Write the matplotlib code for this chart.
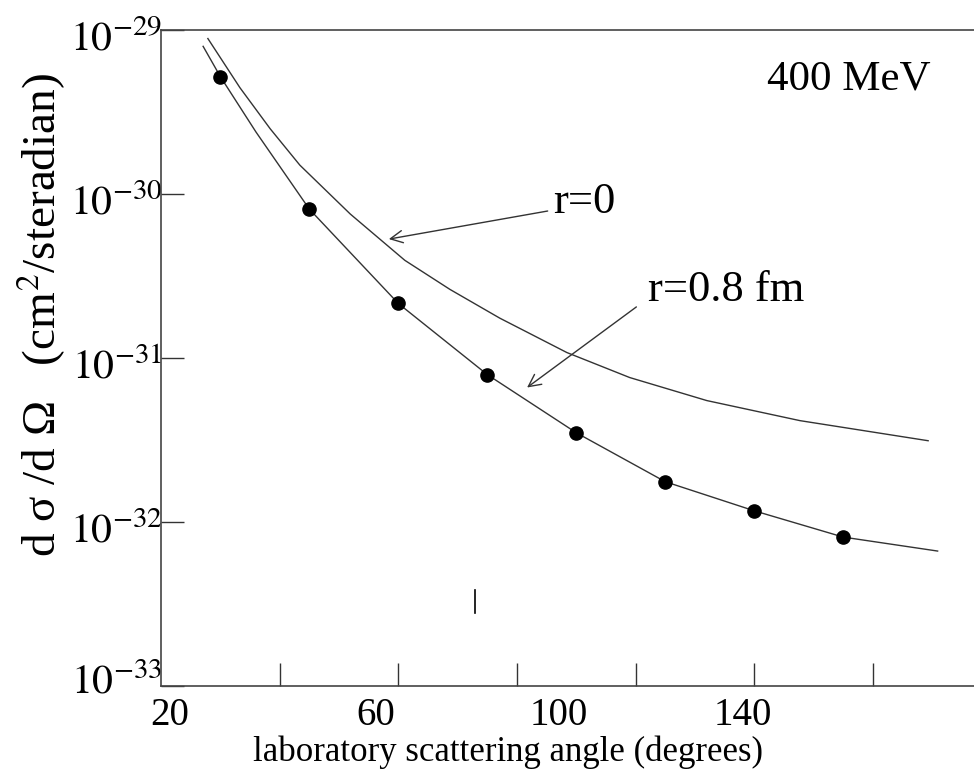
import numpy as np
import matplotlib.pyplot as plt
from matplotlib.transforms import ScaledTranslation

plt.rcParams['font.family'] = ['Liberation Serif', 'DejaVu Serif']
plt.rcParams['mathtext.fontset'] = 'stix'

# measured cross sections (dots), 400 MeV
angles = [30, 45, 60, 75, 90, 105, 120, 135]
sigma_meas = [5.20e-30, 8.09e-31, 2.15e-31, 7.92e-32, 3.50e-32, 1.76e-32, 1.17e-32, 8.09e-33]

# point charge curve (r=0)
r0_angle = [27.9, 33.3, 38.4, 43.4, 51.9, 61.1, 68.7, 77.1, 88.4, 99.0, 112.0, 127.7, 149.3]
r0_sigma = [8.87e-30, 4.45e-30, 2.50e-30, 1.50e-30, 7.55e-31, 3.94e-31, 2.62e-31,
            1.75e-31, 1.08e-31, 7.60e-32, 5.50e-32, 4.15e-32, 3.13e-32]

# finite size curve (r=0.8 fm)
r08_angle = [27.1, 30, 36, 45, 60, 75, 90, 105, 120, 135, 150.9]
r08_sigma = [7.95e-30, 5.20e-30, 2.39e-30, 8.09e-31, 2.15e-31, 7.92e-32, 3.50e-32,
             1.76e-32, 1.17e-32, 8.09e-33, 6.65e-33]

xtick_labels = ['20', '60', '100', '140']
ytick_labels = [r'$10^{-33}$', r'$10^{-32}$', r'$10^{-31}$', r'$10^{-30}$', r'$10^{-29}$']

line_col = '#333333'

fig = plt.figure(figsize=(9.74, 7.74), dpi=100)
ax = fig.add_axes([161 / 974, 1 - 686 / 774, 813 / 974, 656 / 774])

ax.plot(r0_angle, r0_sigma, color=line_col, lw=1.0)
ax.plot(r08_angle, r08_sigma, color=line_col, lw=1.0)
ax.plot(angles, sigma_meas, 'o', color='black', markersize=9.5)

ax.set_yscale('log')
ax.set_xlim(20, 20 + 813 / 5.933)
ax.set_ylim(1e-33, 1e-29)

# tick labels sit a bit off the tick marks in the original
ax.set_xticks([21.4, 56.2, 87.1, 118.1], xtick_labels)
ax.set_xticks([40, 60, 80, 100, 120, 140], minor=True)
ax.set_yticks([1e-33, 1e-32, 1e-31, 1e-30, 1e-29], ytick_labels)
ax.set_yticks([], minor=True)
ax.tick_params(axis='x', which='major', length=0, pad=8, labelsize=28)
ax.tick_params(axis='x', which='minor', direction='in', length=16.5, width=1.0, color=line_col)
ax.tick_params(axis='y', direction='in', length=16.5, width=1.0, pad=-1, labelsize=30, color=line_col)

# y labels drop a little below their ticks, except the bottom one
for i, lab in enumerate(ax.get_yticklabels()):
    dy = 7 if i == 0 else -6
    lab.set_transform(lab.get_transform() + ScaledTranslation(0, dy / 100, fig.dpi_scale_trans))

for s in ['left', 'top', 'bottom']:
    ax.spines[s].set_linewidth(1.2)
    ax.spines[s].set_color('#444444')
ax.spines['right'].set_visible(False)

ax.set_xlabel('laboratory scattering angle (degrees)', fontsize=25)
ax.xaxis.set_label_coords(0.427, -0.076)
ax.set_ylabel('d σ /d Ω   (cm$^{2}$/steradian)', fontsize=34)
ax.yaxis.set_label_coords(-0.115, 0.565)

ax.text(122.1, 10**-29.303, '400 MeV', fontsize=31, va='center', ha='left')
ax.annotate('r=0', xy=(58.4, 10**-30.275), xytext=(86.1, 10**-30.049),
            fontsize=32, va='center', ha='left',
            arrowprops=dict(arrowstyle='->', color=line_col, lw=1.0,
                            shrinkA=2, shrinkB=0, mutation_scale=22,
                            relpos=(0, 0.3)))
ax.annotate('r=0.8 fm', xy=(81.7, 10**-31.18), xytext=(102.1, 10**-30.587),
            fontsize=32, va='center', ha='left',
            arrowprops=dict(arrowstyle='->', color=line_col, lw=1.0,
                            shrinkA=8, shrinkB=0, mutation_scale=22,
                            relpos=(0, 0.3)))

# stray mark in the original figure
ax.plot([0.386, 0.386], [0.111, 0.146], transform=ax.transAxes, color='black', lw=1.2)

fig.savefig('out.png', dpi=100)
